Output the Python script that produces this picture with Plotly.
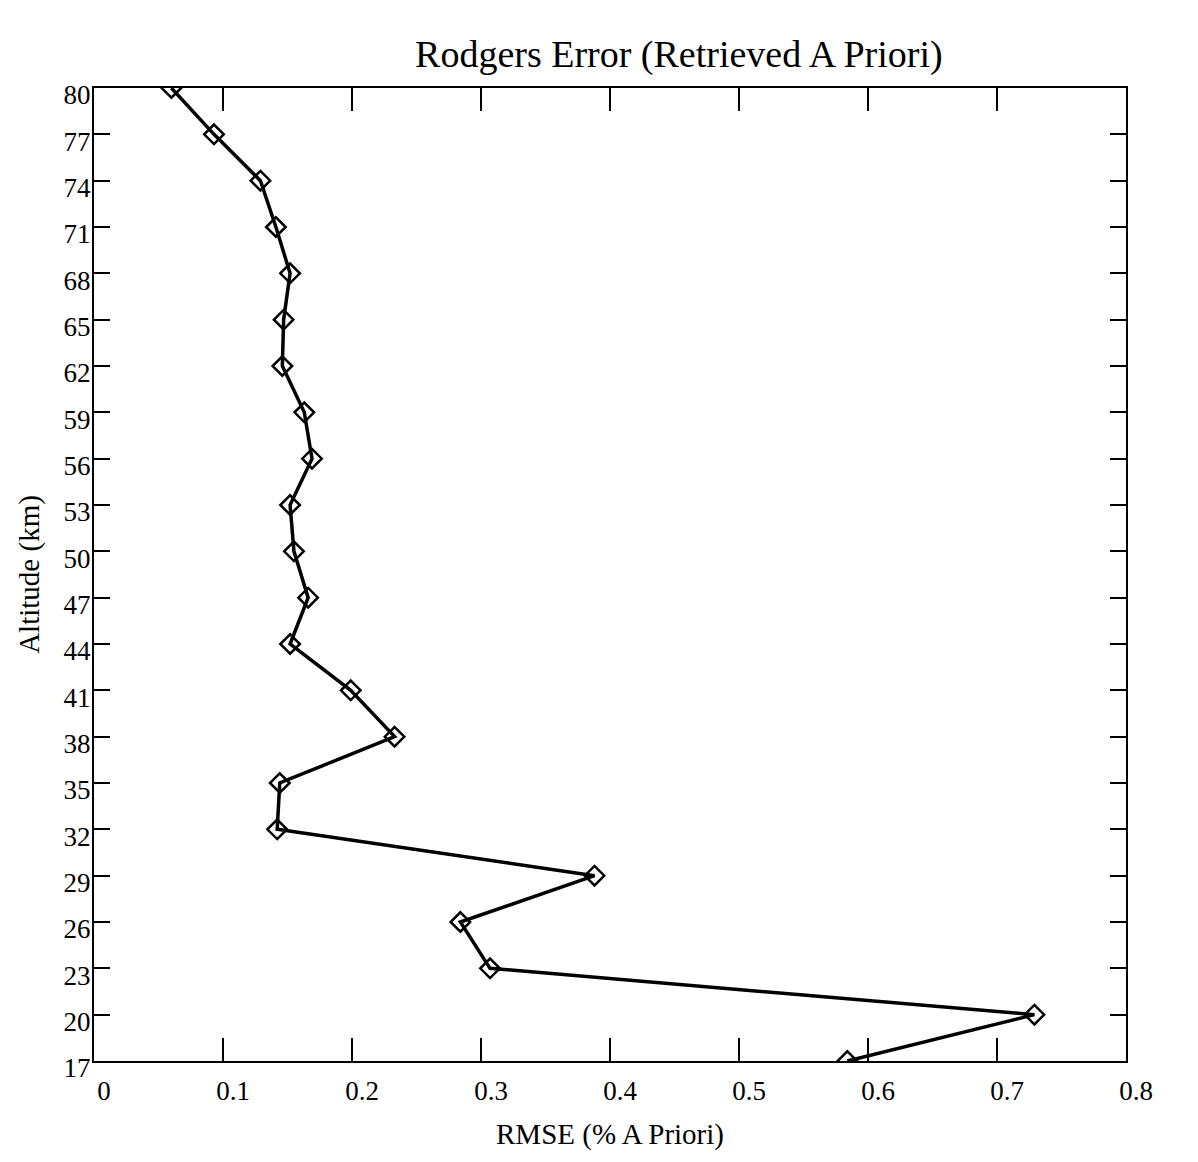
import plotly.graph_objects as go

# Data
altitude_km = [80, 77, 74, 71, 68, 65, 62, 59, 56, 53, 50, 47, 44, 41, 38, 35, 32, 29, 26, 23, 20, 17]
rmse_pct_apriori = [0.060, 0.093, 0.129, 0.141, 0.152, 0.147, 0.146, 0.163, 0.169, 0.152, 0.155,
                    0.166, 0.152, 0.199, 0.233, 0.144, 0.142, 0.388, 0.284, 0.307, 0.729, 0.584]

x_ticks = [0, 0.1, 0.2, 0.3, 0.4, 0.5, 0.6, 0.7, 0.8]
y_ticks = list(range(17, 81, 3))

FONT = "Liberation Serif, Times New Roman, serif"

fig = go.Figure()
fig.add_trace(go.Scatter(
    x=rmse_pct_apriori,
    y=altitude_km,
    mode="lines+markers",
    line=dict(color="black", width=3.5),
    marker=dict(symbol="diamond-open", size=15, color="black", line=dict(width=2.5, color="black")),
    cliponaxis=True,
    showlegend=False,
))

axis_common = dict(
    showline=True, linecolor="black", linewidth=2, mirror="ticks",
    ticks="inside", tickcolor="black", tickwidth=1.5,
    showgrid=False, zeroline=False, automargin=False,
    tickfont=dict(family=FONT, size=27, color="black"),
)

fig.update_xaxes(
    range=[0, 0.8], tickvals=x_ticks, ticktext=[f"{v:g}" for v in x_ticks],
    ticklen=23, ticklabelshift=10, ticklabelstandoff=5,
    title=dict(text="RMSE (% A Priori)", font=dict(family=FONT, size=29, color="black"), standoff=18),
    **axis_common,
)
fig.update_yaxes(
    range=[17, 80], tickvals=y_ticks,
    ticklen=16, ticklabelshift=7, ticklabelstandoff=-4,
    title=dict(text="Altitude (km)", font=dict(family=FONT, size=29, color="black"), standoff=15),
    **axis_common,
)

fig.update_layout(
    width=1198, height=1162,
    margin=dict(l=86, r=80, t=80, b=109),
    paper_bgcolor="white", plot_bgcolor="white",
    title=dict(text="Rodgers Error (Retrieved A Priori)",
               font=dict(family=FONT, size=38, color="black"),
               x=0.56, xanchor="center", yref="container", y=1 - 46 / 1162, yanchor="middle"),
)

fig.write_html("out.html")
